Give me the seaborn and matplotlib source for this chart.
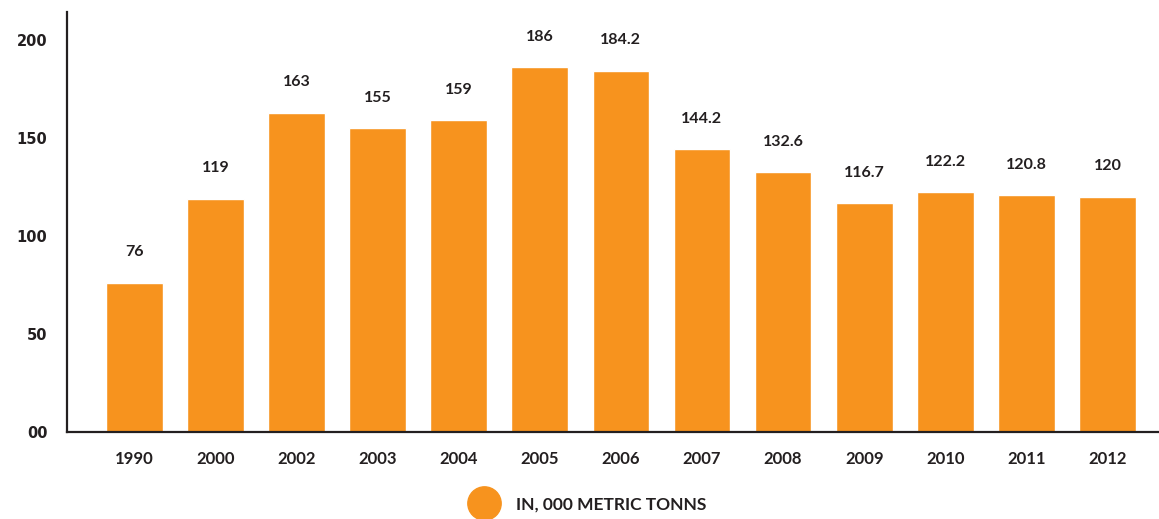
import matplotlib
matplotlib.use("Agg")
import matplotlib.pyplot as plt
import seaborn as sns
import pandas as pd
from matplotlib.lines import Line2D

years = ["1990", "2000", "2002", "2003", "2004", "2005", "2006", "2007",
         "2008", "2009", "2010", "2011", "2012"]
values = [76, 119, 163, 155, 159, 186, 184.2, 144.2, 132.6, 116.7, 122.2, 120.8, 120]
value_labels = ["76", "119", "163", "155", "159", "186", "184.2", "144.2",
                "132.6", "116.7", "122.2", "120.8", "120"]
ytick_vals = [0, 50, 100, 150, 200]
ytick_labels = ["00", "50", "100", "150", "200"]
legend_label = "IN, 000 METRIC TONNS"

ORANGE = "#F7931E"
DARK = "#231F20"

sns.set_theme(style="white")
plt.rcParams["font.family"] = ["Lato", "DejaVu Sans"]

df = pd.DataFrame({"year": years, "value": values})

fig = plt.figure(figsize=(11.59, 5.19), dpi=100)
ax = fig.add_axes([0.0578, 0.1676, 0.9422, 0.809])

sns.barplot(data=df, x="year", y="value", color=ORANGE, saturation=1,
            width=0.70, ax=ax)

for i, (v, lab) in enumerate(zip(values, value_labels)):
    ax.annotate(lab, (i, v), xytext=(0, 22), textcoords="offset points",
                ha="center", va="center", fontsize=11.5, fontweight="bold",
                color=DARK)

ax.set_ylim(1.0, 214.2)
ax.set_xlim(-0.83, 12.635)
ax.set_yticks(ytick_vals)
ax.set_yticklabels(ytick_labels, fontsize=10.5, fontweight="bold", color=DARK,
                   family="DejaVu Sans")
ax.set_xticks(range(len(years)))
ax.set_xticklabels(years, fontsize=12, fontweight="bold", color=DARK)
ax.tick_params(axis="y", length=0, pad=14)
ax.tick_params(axis="x", length=0, pad=14)
ax.set_xlabel("")
ax.set_ylabel("")

for s in ["top", "right"]:
    ax.spines[s].set_visible(False)
for s in ["left", "bottom"]:
    ax.spines[s].set_color(DARK)
    ax.spines[s].set_linewidth(1.6)

handle = Line2D([], [], marker="o", linestyle="none", markersize=24,
                markerfacecolor=ORANGE, markeredgecolor=ORANGE)
leg = fig.legend([handle], [legend_label], loc="center", bbox_to_anchor=(0.506, 0.028),
                 frameon=False, handletextpad=0.8,
                 prop={"family": "Lato", "weight": "bold", "size": 12.5})
for t in leg.get_texts():
    t.set_color(DARK)

fig.savefig("out.png", dpi=100)
